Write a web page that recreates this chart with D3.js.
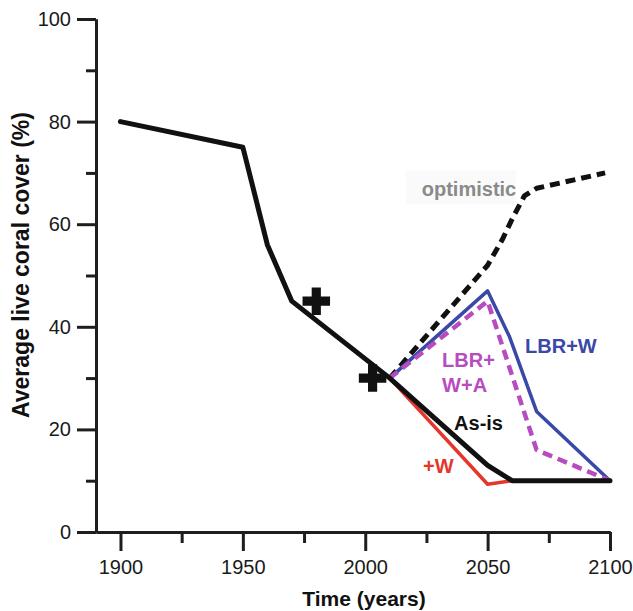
<!DOCTYPE html>
<html>
<head>
<meta charset="utf-8">
<script src="https://cdn.jsdelivr.net/npm/d3@7"></script>
<style>
  body { margin: 0; background: #fff; }
  text { font-family: "Liberation Sans", Arial, Helvetica, sans-serif; }
</style>
</head>
<body>
<div id="chart"></div>
<script>
// data
const asIsYears = [1900, 1950, 1960, 1970, 2010, 2050, 2060, 2100]
const asIsValues = [80, 75, 56, 45, 30, 13, 10, 10]

const plusWYears = [2010, 2050, 2060]
const plusWValues = [30, 9.3, 10]

const lbrWYears = [2010, 2050, 2059, 2070, 2100]
const lbrWValues = [30, 47, 38, 23.5, 10]

const lbrWAYears = [2010, 2050, 2070, 2100]
const lbrWAValues = [30, 45, 16, 10]

const optimisticYears = [2010, 2050, 2056, 2060, 2065, 2070, 2098]
const optimisticValues = [30, 52, 57, 61, 65.5, 67, 70]

const crossYears = [1980, 2003]
const crossValues = [45, 30]

const xMajorTicks = [1900, 1950, 2000, 2050, 2100]
const xMinorTicks = [1925, 1975, 2025, 2075]
const yMajorTicks = [0, 20, 40, 60, 80, 100]
const yMinorTicks = [10, 30, 50, 70, 90]

const labelTexts = ["optimistic", "LBR+W", "LBR+", "W+A", "As-is", "+W"]
const labelYears = [2023.1, 2065.3, 2031.4, 2031.4, 2036.3, 2023.6]
const labelValues = [65.4, 34.9, 32.2, 27.2, 19.9, 11.5]

// ----------------------------------------------------------
const width = 633
const height = 611

const svg = d3.select("div#chart").append("svg").attr("width", width).attr("height", height)

const x = d3.scaleLinear().domain([1890, 2100]).range([96, 610])
const y = d3.scaleLinear().domain([0, 100]).range([532, 19])

const axisColor = "#1e1e1e"

// minor ticks first, then the main axes on top
svg.append("g")
    .attr("transform", `translate(0, ${y(0)})`)
    .call(d3.axisBottom(x).tickValues(xMinorTicks).tickSize(11).tickSizeOuter(0).tickFormat(""))
svg.append("g")
    .attr("transform", `translate(${x(1890)}, 0)`)
    .call(d3.axisLeft(y).tickValues(yMinorTicks).tickSize(10).tickSizeOuter(0).tickFormat(""))

const xAxisGroup = svg.append("g")
    .attr("transform", `translate(0, ${y(0)})`)
    .call(d3.axisBottom(x).tickValues(xMajorTicks).tickSize(19).tickSizeOuter(0).tickPadding(9).tickFormat(d3.format("d")))
const yAxisGroup = svg.append("g")
    .attr("transform", `translate(${x(1890)}, 0)`)
    .call(d3.axisLeft(y).tickValues(yMajorTicks).tickSize(19).tickSizeOuter(0).tickPadding(6))

svg.selectAll(".domain").attr("stroke", axisColor).attr("stroke-width", 3)
svg.selectAll(".tick line").attr("stroke", axisColor).attr("stroke-width", 3)
svg.selectAll(".tick text").attr("fill", "#1a1a1a").style("font-size", "20px")

// axis titles
svg.append("text")
    .attr("x", 364)
    .attr("y", 606)
    .attr("text-anchor", "middle")
    .style("font-size", "21px")
    .style("font-weight", "bold")
    .attr("fill", "#111")
    .text("Time (years)")

svg.append("text")
    .attr("transform", "translate(29, 265) rotate(-90)")
    .attr("text-anchor", "middle")
    .style("font-size", "23px")
    .style("font-weight", "bold")
    .attr("fill", "#111")
    .text("Average live coral cover (%)")

const toPoints = (years, values) => years.map((yr, i) => [yr, values[i]])
const line = d3.line().x(d => x(d[0])).y(d => y(d[1]))

const series = [
    { pts: toPoints(optimisticYears, optimisticValues), color: "#111", w: 5, dash: "10,6" },
    { pts: toPoints(lbrWYears, lbrWValues), color: "#3a48a8", w: 3.5, dash: null },
    { pts: toPoints(lbrWAYears, lbrWAValues), color: "#b74cbf", w: 4.5, dash: "10,6" },
    { pts: toPoints(plusWYears, plusWValues), color: "#e5362a", w: 3.5, dash: null },
    { pts: toPoints(asIsYears, asIsValues), color: "#111", w: 5, dash: null }
]

svg.selectAll(".series").data(series)
    .enter()
    .append("path")
    .attr("class", "series")
    .attr("d", d => line(d.pts))
    .attr("fill", "none")
    .attr("stroke", d => d.color)
    .attr("stroke-width", d => d.w)
    .attr("stroke-dasharray", d => d.dash)
    .attr("stroke-linejoin", "round")
    .attr("stroke-linecap", d => d.dash ? "butt" : "round")

// observation crosses
svg.selectAll(".cross").data(toPoints(crossYears, crossValues))
    .enter()
    .append("path")
    .attr("class", "cross")
    .attr("transform", d => `translate(${x(d[0])}, ${y(d[1])})`)
    .attr("d", d3.symbol().type(d3.symbolCross).size(420))
    .attr("fill", "#111")

// very faint box behind the optimistic label
svg.append("rect")
    .attr("x", x(labelYears[0]) - 16)
    .attr("y", y(labelValues[0]) - 26)
    .attr("width", 110)
    .attr("height", 34)
    .attr("fill", "#fafafa")
    .lower()

const labelColors = ["#8a8a8a", "#3a48a8", "#b74cbf", "#b74cbf", "#111", "#e5362a"]

svg.selectAll(".label").data(labelTexts)
    .enter()
    .append("text")
    .attr("class", "label")
    .attr("x", (d, i) => x(labelYears[i]))
    .attr("y", (d, i) => y(labelValues[i]))
    .style("font-size", "20px")
    .style("font-weight", "bold")
    .attr("fill", (d, i) => labelColors[i])
    .text(d => d)
</script>
</body>
</html>
